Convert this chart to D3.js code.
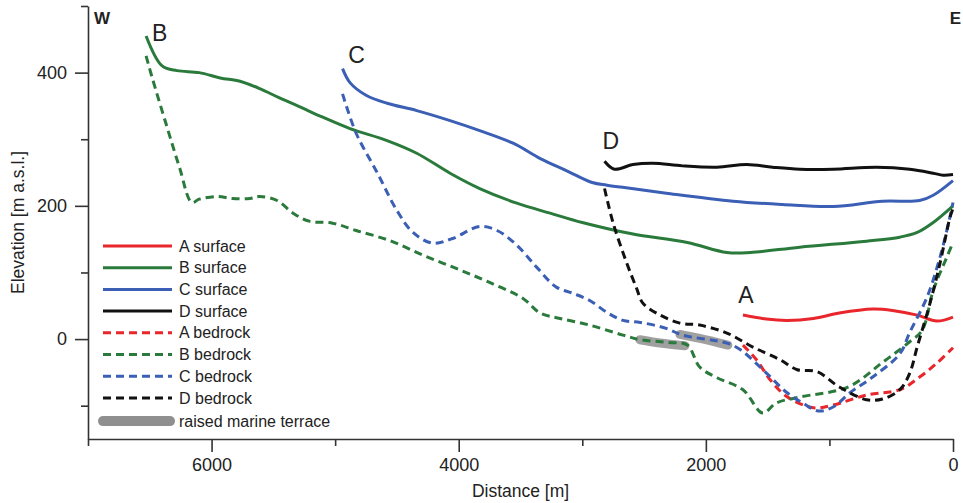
<!DOCTYPE html>
<html>
<head>
<meta charset="utf-8">
<script src="https://cdn.jsdelivr.net/npm/d3@7"></script>
<style>
  body { margin: 0; background: #fff; }
  text { font-family: "Liberation Sans", Arial, sans-serif; fill: #222; }
</style>
</head>
<body>
<script>
// distance [m], elevation [m a.s.l.]
const aSurface = [[1700,36],[1510,30],[1340,28],[1130,31],[920,39],[650,45],[490,43],[290,36],[130,27],[0,33]];
const bSurface = [[6530,455],[6400,410],[6280,403],[6100,400],[5930,392],[5770,387],[5610,376],[5450,362],[5290,349],[5100,333],[4880,316],[4580,298],[4340,279],[4070,249],[3830,226],[3530,204],[3260,189],[3000,175],[2600,158],[2150,145],[1830,130],[1640,130],[1240,138],[700,147],[430,153],[290,160],[160,175],[0,200]];
const cSurface = [[4940,406],[4880,385],[4750,366],[4580,354],[4340,343],[4070,328],[3830,313],[3560,294],[3340,271],[3130,253],[2920,235],[2800,231],[2600,226],[2320,219],[1780,207],[1380,202],[970,199],[570,207],[270,208],[160,216],[0,238]];
const dSurface = [[2820,267],[2740,255],[2590,262],[2430,264],[2190,260],[1910,258],[1670,262],[1460,258],[1240,255],[970,255],[620,258],[350,255],[160,249],[80,246],[0,247]];

const aBedrock = [[1700,-9],[1590,-31],[1480,-61],[1340,-87],[1130,-103],[970,-99],[700,-84],[430,-76],[270,-57],[130,-36],[0,-13]];
const bBedrock = [[6530,425],[6480,392],[6360,318],[6260,258],[6160,205],[6100,210],[5960,214],[5830,211],[5690,211],[5610,214],[5470,208],[5340,189],[5210,177],[5020,174],[4830,163],[4560,148],[4290,126],[4020,106],[3750,85],[3480,61],[3340,39],[3180,31],[2940,21],[2670,6],[2530,-1],[2300,-5],[2150,-9],[2050,-42],[1910,-58],[1700,-76],[1540,-111],[1430,-96],[1240,-87],[850,-72],[570,-35],[350,-4],[250,13],[160,73],[50,123],[0,145]];
const cBedrock = [[4940,368],[4830,309],[4660,250],[4500,193],[4370,160],[4210,144],[4050,151],[3830,169],[3690,163],[3530,141],[3370,108],[3210,78],[3080,69],[2940,58],[2800,40],[2670,28],[2530,25],[2320,16],[2190,6],[1830,-6],[1720,-16],[1510,-51],[1340,-81],[1215,-96],[1090,-108],[970,-102],[830,-80],[650,-57],[430,-22],[350,10],[210,63],[105,123],[25,183],[0,205]];
const dBedrock = [[2820,226],[2750,174],[2640,114],[2560,76],[2510,54],[2370,36],[2210,24],[2050,21],[1830,9],[1620,-12],[1400,-31],[1260,-46],[1100,-49],[920,-72],[700,-91],[570,-90],[430,-76],[350,-51],[290,-12],[186,54],[105,114],[24,183],[0,196]];

const terrace1 = [[2534,-1],[2372,-6],[2170,-10]];
const terrace2 = [[2210,7],[2049,1],[1822,-9]];

const profileLabels = [
  { name: "B", x: 6421, y: 448 },
  { name: "C", x: 4826, y: 415 },
  { name: "D", x: 2769, y: 286 },
  { name: "A", x: 1676, y: 54 }
];

const xMajor = [6000, 4000, 2000, 0];
const xMinor = [7000, 5000, 3000, 1000];
const yMajor = [400, 200, 0];
const yMinor = [500, 300, 100, -100];

const series = [
  { name: "A surface", data: aSurface, color: "#e8262b", dashed: false },
  { name: "B surface", data: bSurface, color: "#2a7a3c", dashed: false },
  { name: "C surface", data: cSurface, color: "#3a5fb4", dashed: false },
  { name: "D surface", data: dSurface, color: "#111111", dashed: false },
  { name: "A bedrock", data: aBedrock, color: "#e8262b", dashed: true },
  { name: "B bedrock", data: bBedrock, color: "#2a7a3c", dashed: true },
  { name: "C bedrock", data: cBedrock, color: "#3a5fb4", dashed: true },
  { name: "D bedrock", data: dBedrock, color: "#111111", dashed: true }
];

const width = 963, height = 503;
const plot = { left: 88, right: 953, top: 6, bottom: 439 };

const svg = d3.select("body").append("svg")
    .attr("width", width)
    .attr("height", height);

const x = d3.scaleLinear().domain([7000, 0]).range([plot.left, plot.right]);
const y = d3.scaleLinear().domain([-150, 500]).range([plot.bottom, plot.top]);

const line = d3.line()
    .x(d => x(d[0]))
    .y(d => y(d[1]))
    .curve(d3.curveCatmullRom.alpha(0.5));

// terrace underneath
[terrace1, terrace2].forEach(t => {
  svg.append("path")
      .datum(t)
      .attr("fill", "none")
      .attr("stroke", "#8f8f8f")
      .attr("stroke-opacity", 0.85)
      .attr("stroke-width", 9)
      .attr("stroke-linecap", "round")
      .attr("d", line);
});

series.forEach(s => {
  svg.append("path")
      .datum(s.data)
      .attr("fill", "none")
      .attr("stroke", s.color)
      .attr("stroke-width", 3)
      .attr("stroke-dasharray", s.dashed ? "8,5" : null)
      .attr("d", line);
});

// axes
const axisColor = "#333";
svg.append("g")
    .attr("transform", `translate(0,${plot.bottom})`)
    .call(d3.axisBottom(x).tickValues(xMajor).tickSize(13).tickSizeOuter(0).tickPadding(6)
      .tickFormat(d3.format("d")));
svg.append("g")
    .attr("transform", `translate(0,${plot.bottom})`)
    .call(d3.axisBottom(x).tickValues(xMinor).tickSize(7).tickSizeOuter(0).tickFormat(""))
    .select(".domain").remove();

svg.append("g")
    .attr("transform", `translate(${plot.left},0)`)
    .call(d3.axisLeft(y).tickValues(yMajor).tickSize(13).tickSizeOuter(0).tickPadding(8));
svg.append("g")
    .attr("transform", `translate(${plot.left},0)`)
    .call(d3.axisLeft(y).tickValues(yMinor).tickSize(7).tickSizeOuter(0).tickFormat(""))
    .select(".domain").remove();

svg.selectAll(".domain, .tick line")
    .attr("stroke", axisColor)
    .attr("stroke-width", 1.6);
svg.selectAll(".tick text")
    .attr("font-family", "Liberation Sans, Arial, sans-serif")
    .attr("font-size", 18)
    .attr("fill", "#222");

// axis titles
svg.append("text")
    .attr("x", (plot.left + plot.right) / 2)
    .attr("y", 497)
    .attr("text-anchor", "middle")
    .attr("font-size", 17.5)
    .text("Distance [m]");

svg.append("text")
    .attr("transform", "rotate(-90)")
    .attr("x", -(plot.top + plot.bottom) / 2)
    .attr("y", 24)
    .attr("text-anchor", "middle")
    .attr("font-size", 17.5)
    .text("Elevation [m a.s.l.]");

svg.append("text")
    .attr("x", 94)
    .attr("y", 24)
    .attr("font-size", 17)
    .attr("font-weight", "bold")
    .text("W");
svg.append("text")
    .attr("x", 961)
    .attr("y", 24)
    .attr("text-anchor", "end")
    .attr("font-size", 17)
    .attr("font-weight", "bold")
    .text("E");

// profile letters
svg.selectAll(".plabel")
    .data(profileLabels)
    .enter()
    .append("text")
    .attr("class", "plabel")
    .attr("x", d => x(d.x))
    .attr("y", d => y(d.y))
    .attr("text-anchor", "middle")
    .attr("font-size", 23)
    .text(d => d.name);

// legend
const legend = svg.append("g").attr("transform", "translate(103,246)");
const rowH = 21.7;
series.forEach((s, i) => {
  legend.append("line")
      .attr("x1", 0).attr("x2", 69)
      .attr("y1", i * rowH).attr("y2", i * rowH)
      .attr("stroke", s.color)
      .attr("stroke-width", 3)
      .attr("stroke-dasharray", s.dashed ? "8,5" : null);
  legend.append("text")
      .attr("x", 76)
      .attr("y", i * rowH)
      .attr("dy", "0.35em")
      .attr("font-size", 16)
      .text(s.name);
});
legend.append("line")
    .attr("x1", 0).attr("x2", 67)
    .attr("y1", 8 * rowH + 1.5).attr("y2", 8 * rowH + 1.5)
    .attr("stroke", "#8f8f8f")
    .attr("stroke-width", 10)
    .attr("stroke-linecap", "round");
legend.append("text")
    .attr("x", 76)
    .attr("y", 8 * rowH + 1.5)
    .attr("dy", "0.35em")
    .attr("font-size", 16)
    .text("raised marine terrace");
</script>
</body>
</html>
